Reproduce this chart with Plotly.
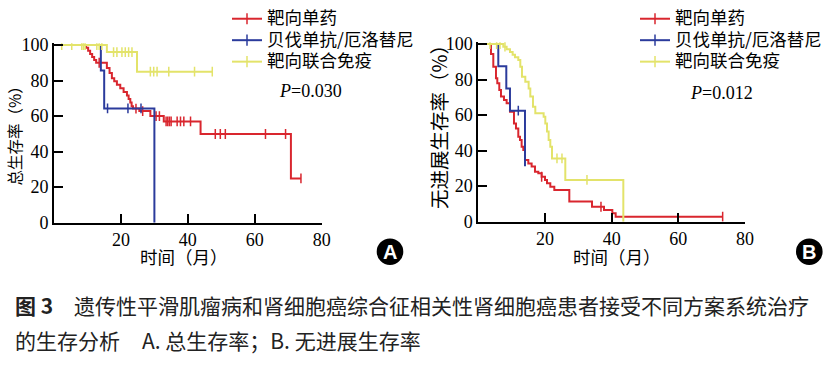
import numpy as np
import plotly.graph_objects as go

W, H = 831, 365

# ---------------- data ----------------
groups = ["靶向单药", "贝伐单抗/厄洛替尼", "靶向联合免疫"]
colors = ["#d9262e", "#2b3b9c", "#e3e36a"]

# Overall survival (A)
os_red_t = [0, 9.6, 10.2, 10.8, 11.4, 12.0, 12.6, 15.8, 16.6, 17.3, 18.0, 18.8, 19.8, 20.8, 21.8,
            22.3, 22.8, 23.2, 23.6, 25.5, 28.8, 32.8, 43.8, 70.8, 73.8]
os_red_s = [100, 98.4, 96.7, 95.0, 93.3, 91.6, 90.0, 87.1, 84.2, 81.3, 79.6, 77.6, 75.6, 73.6, 71.6,
            69.6, 67.6, 65.6, 64.2, 62.8, 60.0, 57.0, 49.9, 24.9, 24.9]
os_red_c = [13.5, 24.5, 26.5, 30.5, 31.5, 33.5, 34.0, 34.5, 35.0, 36.8, 37.8, 38.8, 40.8,
            48.2, 49.7, 51.2, 63.2, 69.2, 73.8]

os_blue_t = [0, 14.0, 15.0, 30.0]
os_blue_s = [100, 85.7, 64.3, 0]
os_blue_c = [16.0, 22.1, 26.0]

os_yel_t = [0, 15.8, 24.8, 47.3]
os_yel_s = [100, 96.0, 85.0, 85.0]
os_yel_c = [2.3, 5.3, 8.3, 8.8, 9.3, 12.8, 13.5, 14.3, 17.8, 18.8, 20.3, 21.3, 22.3, 23.3,
            28.8, 29.8, 30.8, 34.3, 42.0, 47.3]

# Progression-free survival (B)
pfs_red_t = [0, 3.8, 4.5, 5.3, 5.7, 6.3, 6.8, 7.7, 8.5, 9.5, 10.7, 11.3, 12.0, 12.5, 13.0, 13.5,
             14.0, 15.0, 16.0, 17.0, 18.0, 19.0, 20.0, 20.6, 21.6, 22.8, 27.3, 34.1, 37.7, 40.2,
             41.2, 73.3]
pfs_red_s = [100, 94.4, 87.2, 80.7, 77.9, 74.1, 70.4, 68.5, 66.6, 61.9, 55.3, 52.5, 47.8, 46.0,
             42.2, 40.3, 34.7, 32.8, 31.0, 28.1, 27.2, 25.3, 23.5, 21.6, 19.7, 17.8, 11.3, 8.4,
             6.6, 4.7, 2.8, 2.8]
pfs_red_c = [19.0, 36.8, 73.3]

pfs_blue_t = [0, 6.0, 8.4, 9.5, 14.0]
pfs_blue_s = [100, 87.5, 75.0, 62.5, 31.25]
pfs_blue_c = [12.0]

pfs_yel_t = [0, 7.5, 8.5, 9.5, 10.3, 11.0, 12.0, 12.6, 13.1, 14.1, 15.1, 15.6, 16.4, 17.1,
             19.6, 20.1, 20.6, 21.1, 21.6, 22.1, 26.1, 43.5]
pfs_yel_s = [100, 98.5, 97.0, 95.5, 94.0, 92.5, 91.0, 87.2, 81.6, 78.8, 75.0, 70.4, 64.7, 61.0,
             59.0, 55.3, 50.7, 46.0, 42.2, 35.6, 23.5, 0]
pfs_yel_c = [3.5, 5.5, 6.5, 8.0, 23.6, 25.1, 32.6]

x_ticks = [20, 40, 60, 80]
y_ticks = [0, 20, 40, 60, 80, 100]
p_values = ["0.030", "0.012"]
x_title = "时间（月）"
y_titles = ["总生存率（%）", "无进展生存率（%）"]
panel_labels = ["A", "B"]
caption1_head = "图 3"
caption1 = "遗传性平滑肌瘤病和肾细胞癌综合征相关性肾细胞癌患者接受不同方案系统治疗"
caption2a = "的生存分析"
caption2b = "A. 总生存率；B. 无进展生存率"

# ---------------- helpers ----------------
def px(x):
    return x / W

def py(y):
    return 1 - y / H

def step_at(t, s, c):
    t = np.asarray(t, float)
    s = np.asarray(s, float)
    idx = np.searchsorted(t, np.asarray(c, float), side="right") - 1
    return s[idx]

fig = go.Figure()

panels = [
    dict(xa="x", ya="y", leg="legend",
         curves=[(os_red_t, os_red_s, os_red_c), (os_blue_t, os_blue_s, os_blue_c),
                 (os_yel_t, os_yel_s, os_yel_c)]),
    dict(xa="x2", ya="y2", leg="legend2",
         curves=[(pfs_red_t, pfs_red_s, pfs_red_c), (pfs_blue_t, pfs_blue_s, pfs_blue_c),
                 (pfs_yel_t, pfs_yel_s, pfs_yel_c)]),
]

for p in panels:
    for gi, (t, s, c) in enumerate(p["curves"]):
        col = colors[gi]
        fig.add_trace(go.Scatter(x=t, y=s, mode="lines", line=dict(color=col, width=2, shape="hv"),
                                 xaxis=p["xa"], yaxis=p["ya"], showlegend=False, hoverinfo="skip"))
        fig.add_trace(go.Scatter(x=c, y=step_at(t, s, c), mode="markers",
                                 marker=dict(symbol="line-ns", size=7,
                                             line=dict(color=col, width=1.5)),
                                 xaxis=p["xa"], yaxis=p["ya"], showlegend=False, hoverinfo="skip"))
    for gi, g in enumerate(groups):
        fig.add_trace(go.Scatter(x=[None], y=[None], mode="lines+markers",
                                 name='<span style="font-size:17.5px">' + g + "</span>",
                                 line=dict(color=colors[gi], width=2),
                                 marker=dict(symbol="line-ns", size=8,
                                             line=dict(color=colors[gi], width=1.5)),
                                 xaxis=p["xa"], yaxis=p["ya"], legend=p["leg"]))

tickfont = dict(family="Liberation Serif", size=18, color="black")
axis_common = dict(showline=True, linewidth=2, linecolor="black", ticks="inside", ticklen=9,
                   tickwidth=2, tickcolor="black", showgrid=False, zeroline=False,
                   tickfont=tickfont, fixedrange=True)

legend_font = dict(family="Noto Sans CJK SC", size=14.2, color="black")
y_bottom = 222.7
y_top = y_bottom - 1.777 * 101
fig.update_layout(
    width=W, height=H, margin=dict(l=0, r=0, t=0, b=0, autoexpand=False),
    paper_bgcolor="white", plot_bgcolor="white",
    xaxis=dict(domain=[px(54), px(321.7)], range=[0, 80], tickvals=x_ticks, anchor="y", **axis_common),
    yaxis=dict(domain=[py(y_bottom), py(y_top)], range=[0, 101], tickvals=y_ticks, anchor="x", **axis_common),
    xaxis2=dict(domain=[px(478.3), px(745)], range=[0, 80], tickvals=x_ticks, anchor="y2", **axis_common),
    yaxis2=dict(domain=[py(y_bottom - 1), py(y_top - 1)], range=[0, 101], tickvals=y_ticks, anchor="x2", **axis_common),
    legend=dict(x=px(227), y=py(3), xanchor="left", yanchor="top", bgcolor="rgba(0,0,0,0)",
                font=legend_font, tracegroupgap=0, itemwidth=30),
    legend2=dict(x=px(635), y=py(3), xanchor="left", yanchor="top", bgcolor="rgba(0,0,0,0)",
                 font=legend_font, tracegroupgap=0, itemwidth=30),
    showlegend=True,
)

ann = []
# P values
for (cx, cy), pv in zip([(310, 91), (721, 93)], p_values):
    ann.append(dict(x=px(cx), y=py(cy), xref="paper", yref="paper", text="<i>P</i>=" + pv,
                    showarrow=False, xanchor="center", yanchor="middle",
                    font=dict(family="Liberation Serif", size=18, color="black")))
# axis titles
for cx in [184, 616.7]:
    ann.append(dict(x=px(cx), y=py(256), xref="paper", yref="paper", text=x_title, showarrow=False,
                    xanchor="center", yanchor="middle",
                    font=dict(family="Noto Sans CJK SC", size=17.5, color="black")))
for (cx, cy, fs), t in zip([(13, 132.5, 15.5), (438.3, 121.7, 19.5)], y_titles):
    ann.append(dict(x=px(cx), y=py(cy), xref="paper", yref="paper", text=t, showarrow=False,
                    textangle=-90, xanchor="center", yanchor="middle",
                    font=dict(family="Noto Sans CJK SC", size=fs, color="black")))
# panel badges
shapes = []
for (cx, cy), lab in zip([(390, 251.7), (809.3, 251.7)], panel_labels):
    r = 13.3
    shapes.append(dict(type="circle", xref="paper", yref="paper", x0=px(cx - r), x1=px(cx + r),
                       y0=py(cy + r), y1=py(cy - r), fillcolor="black", line=dict(width=0)))
    ann.append(dict(x=px(cx), y=py(cy), xref="paper", yref="paper", text="<b>" + lab + "</b>",
                    showarrow=False, xanchor="center", yanchor="middle",
                    font=dict(family="Liberation Sans", size=20, color="white")))
# caption
cap_font = dict(family="Noto Sans CJK SC", size=21, color="#222222")
ann.append(dict(x=px(13), y=py(305), xref="paper", yref="paper", text="<b>" + caption1_head + "</b>",
                showarrow=False, xanchor="left", yanchor="middle", font=cap_font))
ann.append(dict(x=px(72), y=py(305), xref="paper", yref="paper", text=caption1,
                showarrow=False, xanchor="left", yanchor="middle", font=cap_font))
ann.append(dict(x=px(13), y=py(340), xref="paper", yref="paper", text=caption2a,
                showarrow=False, xanchor="left", yanchor="middle", font=cap_font))
ann.append(dict(x=px(140), y=py(340), xref="paper", yref="paper", text=caption2b,
                showarrow=False, xanchor="left", yanchor="middle", font=cap_font))

fig.update_layout(annotations=ann, shapes=shapes)
fig.write_html("out.html")
